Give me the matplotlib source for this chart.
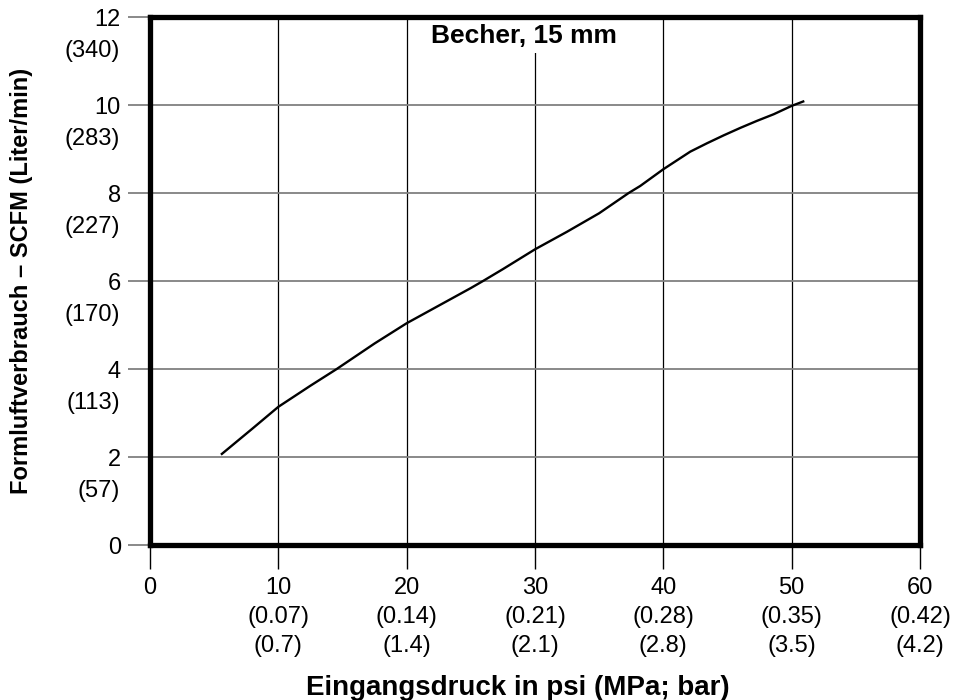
import numpy as np
import matplotlib.pyplot as plt

plt.rcParams["font.family"] = ["Liberation Sans", "DejaVu Sans"]

# curve (psi vs SCFM)
psi = [5.6, 8.0, 10.0, 12.5, 14.55, 17.5, 20.0, 22.5, 25.0, 25.95, 27.5, 30.0,
       32.5, 35.0, 37.3, 38.2, 40.0, 42.1, 43.4, 44.7, 46.0, 47.3, 48.6,
       50.0, 50.9]
scfm = [2.07, 2.65, 3.14, 3.62, 4.0, 4.58, 5.04, 5.44, 5.84, 6.0, 6.27, 6.72,
        7.12, 7.54, 8.0, 8.16, 8.54, 8.94, 9.13, 9.31, 9.48, 9.64, 9.79,
        9.98, 10.08]

x_ticks = [0, 10, 20, 30, 40, 50, 60]
x_mpa = ["", "(0.07)", "(0.14)", "(0.21)", "(0.28)", "(0.35)", "(0.42)"]
x_bar = ["", "(0.7)", "(1.4)", "(2.1)", "(2.8)", "(3.5)", "(4.2)"]

y_ticks = [0, 2, 4, 6, 8, 10, 12]
y_lpm = ["", "(57)", "(113)", "(170)", "(227)", "(283)", "(340)"]

title = "Becher, 15 mm"
xlabel = "Eingangsdruck in psi (MPa; bar)"
ylabel = "Formluftverbrauch – SCFM (Liter/min)"

fig = plt.figure(figsize=(9.65, 7), dpi=100)
ax = fig.add_axes([150/965, 1 - 545/700, 770/965, 528/700])

ax.set_xlim(0, 60)
ax.set_ylim(0, 12)

# grid: vertical black, horizontal gray
for xv in x_ticks[1:-1]:
    ax.axvline(xv, color="black", lw=0.9, zorder=1)
for yv in y_ticks[1:-1]:
    ax.axhline(yv, color="#808080", lw=1.3, zorder=1)

ax.plot(psi, scfm, color="black", lw=1.7, zorder=3, solid_joinstyle="round")

ax.text(29.1, 11.57, title, ha="center", va="center", fontsize=19,
        fontweight="bold", zorder=4,
        bbox=dict(facecolor="white", edgecolor="none", pad=4))

for s in ax.spines.values():
    s.set_linewidth(3.8)
    s.set_zorder(5)

# x ticks: three lines each
xl = [f"{v}\n{m}\n{b}".rstrip() for v, m, b in zip(x_ticks, x_mpa, x_bar)]
ax.set_xticks(x_ticks)
ax.set_xticklabels(xl, fontsize=17, linespacing=1.42)
ax.tick_params(axis="x", length=17, width=1, color="black", pad=6)

ax.set_yticks(y_ticks)
ax.set_yticklabels([str(v) for v in y_ticks], fontsize=17)
ax.tick_params(axis="y", length=16, width=1.3, color="#808080", pad=5)

for yv, lab in zip(y_ticks, y_lpm):
    if lab:
        ax.annotate(lab, xy=(0, yv), xycoords=("axes fraction", "data"),
                    xytext=(-21.5, -24.5), textcoords="offset points",
                    ha="right", va="center", fontsize=17)

fig.text(518/965, 1 - 688/700, xlabel, ha="center", va="center",
         fontsize=20, fontweight="bold")
fig.text(22/965, 1 - 281/700, ylabel, ha="center", va="center",
         rotation=90, fontsize=17, fontweight="bold")

fig.savefig("out.png", dpi=100)
